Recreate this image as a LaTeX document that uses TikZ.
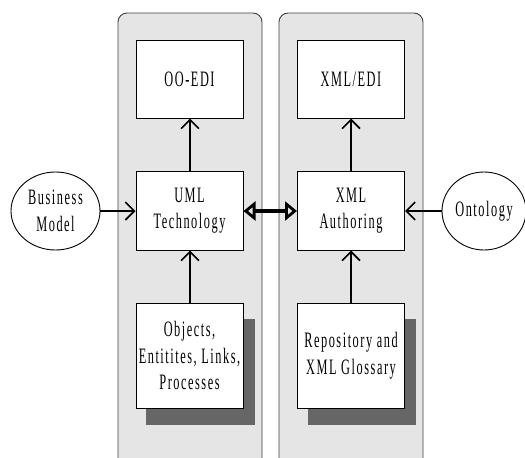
\documentclass[tikz,border=0pt]{standalone}
\usepackage{fontspec}
\setmainfont{Liberation Serif}[FakeStretch=0.56,LetterSpace=7]
\usetikzlibrary{arrows.meta,shapes.geometric}
\definecolor{panelgray}{gray}{0.9}
\definecolor{shadowgray}{gray}{0.4}
\definecolor{panelline}{gray}{0.25}
\tikzset{
  panel/.style={draw=panelline,fill=panelgray,rounded corners=9pt,line width=0.9pt},
  box/.style={draw,fill=white,line width=1pt,minimum width=107pt,align=center,
    font=\fontsize{22}{26.5}\selectfont,inner sep=0pt},
  oval/.style={draw,fill=white,ellipse,line width=0.9pt,minimum width=89pt,minimum height=78pt,
    align=center,inner sep=0pt,font=\fontsize{22}{26.5}\selectfont},
  flow/.style={line width=2pt,-{Straight Barb[length=9pt,width=18pt,line width=1.6pt]}},
  link/.style={line width=3.5pt,{Triangle[open,length=12pt,width=19pt,line width=2.8pt]}-{Triangle[open,length=12pt,width=19pt,line width=2.8pt]}},
  shadow/.style={fill=shadowgray}
}
\begin{document}
\begin{tikzpicture}[x=1pt,y=-1pt]
\useasboundingbox (0,0) rectangle (525,458);
\begin{scope}
  \clip (0,0) rectangle (525,458);
  % two rounded panels, cut off at the lower edge
  \draw[panel] (118,13) rectangle (262,475);
  \draw[panel] (279,13) rectangle (423,475);
\end{scope}
% drop shadows behind the lower boxes
\fill[shadow] (146,319) rectangle (255,425);
\fill[shadow] (308,319) rectangle (416,425);
% left column
\node[box,minimum height=78pt] (ooedi) at (189.5,79) {OO-EDI};
\node[box,minimum height=79pt] (uml) at (189.5,210.5) {UML\\Technology};
\node[box,minimum height=105pt] (obj) at (189.5,355.5) {Objects,\\Entitites, Links,\\Processes};
% right column
\node[box,minimum height=78pt] (xmledi) at (351,79) {XML/EDI};
\node[box,minimum height=79pt] (xmla) at (351,210.5) {XML\\Authoring};
\node[box,minimum height=105pt] (repo) at (351,355.5) {Repository and\\XML Glossary};
% outer inputs
\node[oval] (biz) at (55.5,211) {Business\\Model};
\node[oval,minimum width=84pt] (onto) at (484,211) {Ontology};
% connectors
\draw[flow] (uml.north -| 190,0) -- (ooedi.south -| 190,0);
\draw[flow] (obj.north -| 190,0) -- (uml.south -| 190,0);
\draw[flow] (xmla) -- (xmledi);
\draw[flow] (repo) -- (xmla);
\draw[flow] (biz.east |- 0,211) -- (uml.west |- 0,211);
\draw[flow] (onto.west |- 0,211) -- (xmla.east |- 0,211);
\draw[link] (uml.east |- 0,211) -- (xmla.west |- 0,211);
\end{tikzpicture}
\end{document}
